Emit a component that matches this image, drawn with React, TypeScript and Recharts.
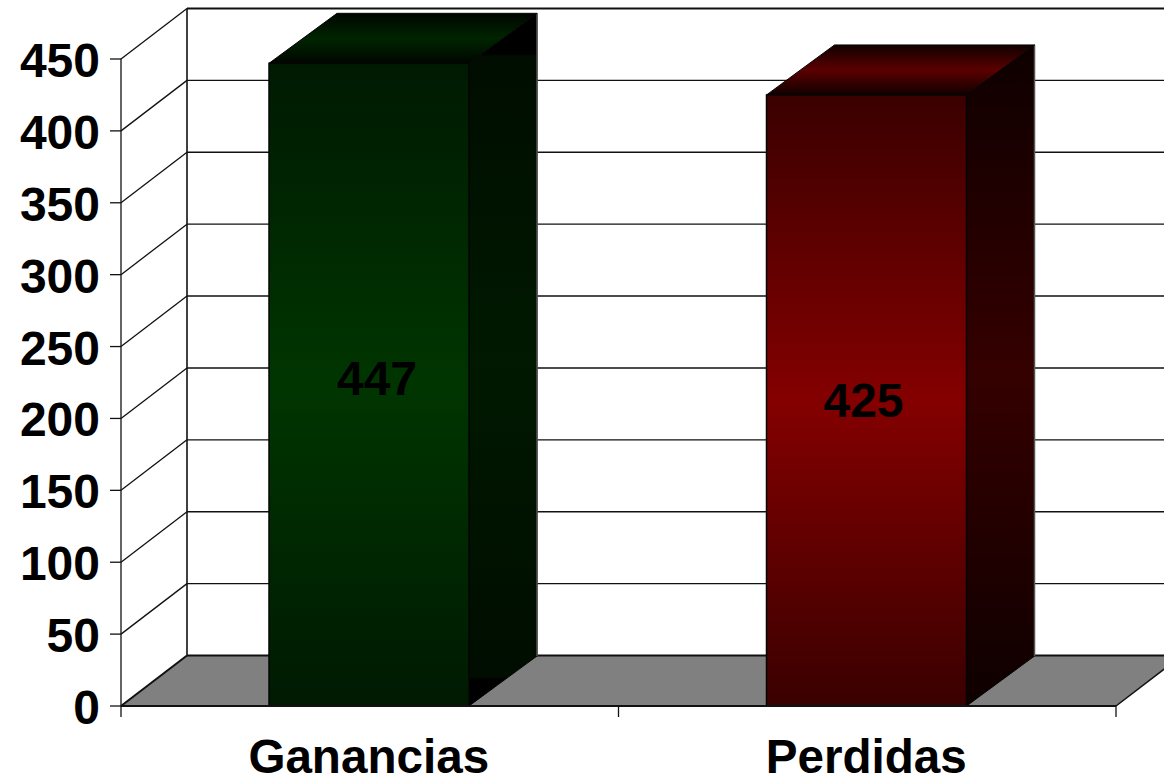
import { BarChart, Bar, XAxis, YAxis, CartesianGrid, LabelList } from 'recharts';

const categories = ['Ganancias', 'Perdidas'];
const values = [447, 425];
const yTicks = [0, 50, 100, 150, 200, 250, 300, 350, 400, 450];
const chartData = categories.map((name, i) => ({ name, value: values[i] }));

const WIDTH = 1164;
const HEIGHT = 782;
const PLOT_LEFT = 121;
const PLOT_RIGHT = 1116;
const PLOT_TOP = 59;
const PLOT_BOTTOM = 706;
const BAND = (PLOT_RIGHT - PLOT_LEFT) / categories.length;

// profundidad del "3D"
const WALL_DX = 66;
const WALL_DY = 50.5;
const BAR_DX = 68;
const BAR_DY = 50;

const FONT = '"Liberation Sans", Arial, sans-serif';
const LINE = '#111';

// paradas de degradado de cada cara: [offset, color]
type Stop = [string, string];
const faces: { id: string; front: Stop[]; top: Stop[]; side: Stop[] }[] = [
  {
    id: 'g',
    front: [['0%', '#001a02'], ['50%', '#003500'], ['100%', '#001a02']],
    top: [['0%', '#000600'], ['50%', '#002400'], ['100%', '#000600']],
    side: [['0%', '#000000'], ['5.8%', '#000000'], ['6.2%', '#000d00'], ['50%', '#001900'], ['95.8%', '#000d00'], ['96.2%', '#000000'], ['100%', '#000000']],
  },
  {
    id: 'r',
    front: [['0%', '#3a0000'], ['50%', '#840000'], ['100%', '#3a0000']],
    top: [['0%', '#100000'], ['50%', '#5c0000'], ['100%', '#100000']],
    side: [['0%', '#0e0000'], ['50%', '#350000'], ['100%', '#0e0000']],
  },
];

function GridLine(props: any) {
  const { x1, x2, y1 } = props;
  const isFloor = Math.abs(y1 - PLOT_BOTTOM) < 1;
  const isTop = Math.abs(y1 - PLOT_TOP) < 1;
  return (
    <g key={props.key}>
      {isFloor && (
        <polygon
          points={`${x1},${y1} ${x1 + WALL_DX},${y1 - WALL_DY} ${x2 + WALL_DX},${y1 - WALL_DY} ${x2},${y1}`}
          fill="#808080"
        />
      )}
      <line x1={x1} y1={y1} x2={x1 + WALL_DX} y2={y1 - WALL_DY} stroke={LINE} strokeWidth={isFloor ? 2 : 1.3} />
      <line x1={x1 + WALL_DX} y1={y1 - WALL_DY} x2={x2 + WALL_DX} y2={y1 - WALL_DY} stroke={LINE} strokeWidth={isFloor || isTop ? 2 : 1.4} />
      {isFloor && <line x1={x2} y1={y1} x2={x2 + WALL_DX} y2={y1 - WALL_DY} stroke={LINE} strokeWidth={1.5} />}
      {isTop && (
        <line x1={x1 + WALL_DX} y1={y1 - WALL_DY} x2={x1 + WALL_DX} y2={PLOT_BOTTOM - WALL_DY} stroke={LINE} strokeWidth={1.6} />
      )}
    </g>
  );
}

function Bar3D(props: any) {
  const { y, width, height, index } = props;
  // el original queda un pixel a la izquierda del centro de la banda
  const x = props.x - 1;
  const id = faces[index].id;
  const right = x + width;
  const bottom = y + height;
  const edge = '#050505';
  return (
    <g>
      <polygon
        points={`${right},${y} ${right + BAR_DX},${y - BAR_DY} ${right + BAR_DX},${bottom - BAR_DY} ${right},${bottom}`}
        fill={`url(#side-${id})`}
        stroke={edge}
        strokeWidth={1}
      />
      <line x1={right + BAR_DX} y1={y - BAR_DY} x2={right + BAR_DX} y2={bottom - BAR_DY} stroke="#555" strokeWidth={1.5} />
      <polygon
        points={`${x},${y} ${x + BAR_DX},${y - BAR_DY} ${right + BAR_DX},${y - BAR_DY} ${right},${y}`}
        fill={`url(#top-${id})`}
        stroke={edge}
        strokeWidth={1}
      />
      <rect x={x} y={y} width={width} height={height} fill={`url(#front-${id})`} stroke={edge} strokeWidth={1.5} />
    </g>
  );
}

function ValueLabel(props: any) {
  const { x, y, width, height, value, index } = props;
  // las etiquetas del original no quedan del todo centradas
  const nudge = [7, -4][index];
  const lift = [-6, 0][index];
  return (
    <text
      x={x + width / 2 + nudge}
      y={y + height / 2 + lift}
      textAnchor="middle"
      dominantBaseline="central"
      fontFamily={FONT}
      fontWeight="bold"
      fontSize={48}
      fill="#000"
    >
      {value}
    </text>
  );
}

function CategoryTick(props: any) {
  const { x, y, payload, index } = props;
  const left = x - BAND / 2;
  return (
    <g>
      <line x1={left} y1={PLOT_BOTTOM} x2={left} y2={PLOT_BOTTOM + 11} stroke={LINE} strokeWidth={1.3} />
      {index === categories.length - 1 && (
        <line x1={x + BAND / 2} y1={PLOT_BOTTOM} x2={x + BAND / 2} y2={PLOT_BOTTOM + 11} stroke={LINE} strokeWidth={1.3} />
      )}
      <text x={x - 1} y={y + 59} textAnchor="middle" fontFamily={FONT} fontWeight="bold" fontSize={47.6} fill="#000">
        {payload.value}
      </text>
    </g>
  );
}

export default function App() {
  return (
    <div style={{ position: 'absolute', left: 0, top: 0, width: WIDTH, height: HEIGHT, background: '#fff' }}>
      <BarChart
        width={WIDTH}
        height={HEIGHT}
        data={chartData}
        margin={{ top: PLOT_TOP, right: WIDTH - PLOT_RIGHT, bottom: 0, left: 0 }}
      >
        <defs>
          {faces.map((f) =>
            (['front', 'top', 'side'] as const).map((face) => (
              <linearGradient key={face + f.id} id={`${face}-${f.id}`} x1="0" y1="0" x2="0" y2="1">
                {f[face].map(([offset, color]) => (
                  <stop key={offset} offset={offset} stopColor={color} />
                ))}
              </linearGradient>
            ))
          )}
        </defs>
        <CartesianGrid vertical={false} horizontal={GridLine as any} />
        <XAxis
          dataKey="name"
          height={HEIGHT - PLOT_BOTTOM}
          tickLine={false}
          axisLine={{ stroke: LINE, strokeWidth: 2 }}
          tick={CategoryTick as any}
          interval={0}
        />
        <YAxis
          domain={[0, 450]}
          ticks={yTicks}
          width={PLOT_LEFT}
          tickSize={11}
          tickMargin={10}
          interval={0}
          axisLine={{ stroke: LINE, strokeWidth: 1.3 }}
          tickLine={{ stroke: LINE, strokeWidth: 1.3 }}
          tick={{ fontFamily: FONT, fontWeight: 'bold', fontSize: 48, fill: '#000', dy: 1 }}
        />
        <Bar dataKey="value" barSize={200} shape={Bar3D as any} isAnimationActive={false}>
          <LabelList dataKey="value" content={ValueLabel as any} />
        </Bar>
      </BarChart>
    </div>
  );
}
